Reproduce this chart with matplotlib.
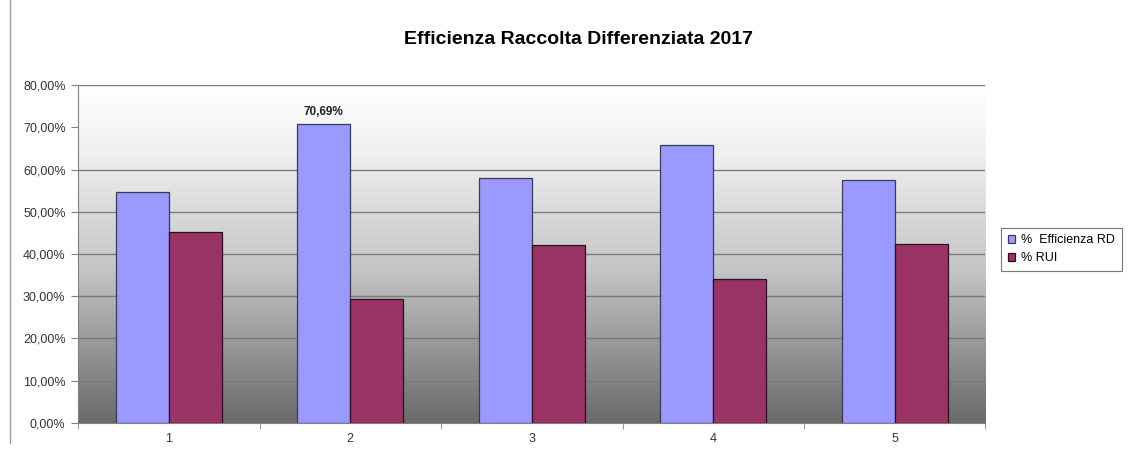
import matplotlib.pyplot as plt
import numpy as np
from matplotlib.colors import LinearSegmentedColormap
from matplotlib.ticker import FuncFormatter, FixedLocator

plt.rcParams['font.family'] = ['Liberation Sans', 'DejaVu Sans']

# Data
categories = ['1', '2', '3', '4', '5']
efficienza_rd = [54.7, 70.69, 57.9, 65.9, 57.6]
rui = [45.3, 29.31, 42.1, 34.1, 42.4]
gridline_values = [10, 20, 30, 40, 50, 60, 80]
y_ticks = [0, 10, 20, 30, 40, 50, 60, 70, 80]

blue = '#9999FF'
purple = '#993366'

fig = plt.figure(figsize=(11.41, 4.57), dpi=100)
ax = fig.add_axes([0.0684, 0.0744, 0.7953, 0.7396])

x = np.arange(len(categories))
w = 0.292

# gradient background (dark gray at bottom, white at top)
grad = np.linspace(0.0, 1.0, 256).reshape(-1, 1)
bg_cmap = LinearSegmentedColormap.from_list('bg', [(0.0, '#6a6a6a'), (0.45, '#c4c4c4'),
                                                   (0.8, '#f0f0f0'), (1.0, '#ffffff')])
ax.imshow(grad, extent=[-0.5, len(categories) - 0.5, 0, 80], aspect='auto',
          cmap=bg_cmap, origin='lower', zorder=0)

for g in gridline_values:
    ax.axhline(g, color='#7a7a7a', lw=1.0, zorder=1)

ax.bar(x - w / 2, efficienza_rd, w, color=blue, edgecolor='#3a3a5a', lw=0.9,
       label='%  Efficienza RD', zorder=3)
ax.bar(x + w / 2, rui, w, color=purple, edgecolor='#2a1020', lw=0.9,
       label='% RUI', zorder=3)

# data label on the highest bar
ax.text(x[1] - w / 2, efficienza_rd[1] + 1.5, '70,69%', ha='center', va='bottom',
        fontsize=8.5, fontweight='bold', color='#222222')

ax.set_xlim(-0.5, len(categories) - 0.5)
ax.set_ylim(0, 80)
ax.set_xticks(x)
ax.set_xticklabels(categories)
ax.xaxis.set_minor_locator(FixedLocator(np.arange(-0.5, len(categories), 1.0)))
ax.tick_params(axis='x', which='major', length=0, labelsize=9, colors='#333333', pad=7)
ax.tick_params(axis='x', which='minor', length=4, color='#808080', direction='out')
ax.set_yticks(y_ticks)
ax.yaxis.set_major_formatter(FuncFormatter(lambda v, p: f'{v:.2f}%'.replace('.', ',')))
ax.tick_params(axis='y', length=5, color='#808080', labelsize=9, colors='#333333', pad=4)

for s in ['top', 'right']:
    ax.spines[s].set_visible(False)
ax.spines['left'].set_color('#808080')
ax.spines['bottom'].set_color('#808080')

fig.text(0.507, 0.913, 'Efficienza Raccolta Differenziata 2017',
         ha='center', va='center', fontsize=14, fontweight='bold',
         family=['Liberation Sans Narrow', 'Liberation Sans', 'DejaVu Sans'])

leg = fig.legend(loc='upper left', bbox_to_anchor=(0.877, 0.502), fontsize=9,
                 frameon=True, fancybox=False, edgecolor='#555555',
                 handlelength=0.6, handleheight=0.6, handletextpad=0.5,
                 borderpad=0.55, labelspacing=0.45, borderaxespad=0)
leg.get_frame().set_linewidth(0.8)

# page border line on the left
fig.add_artist(plt.Line2D([0.009, 0.009], [0.03, 1.0], color='#999999', lw=1,
                          transform=fig.transFigure))

fig.savefig('out.png', dpi=100)
